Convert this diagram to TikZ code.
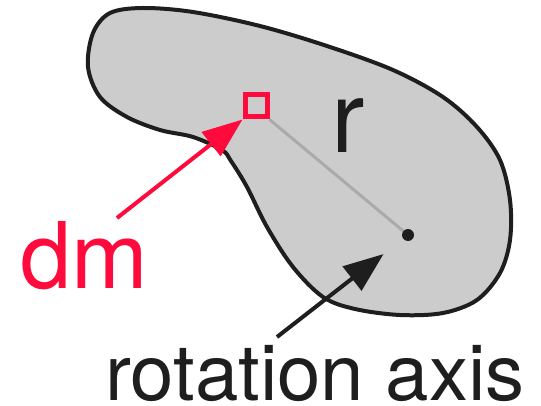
\documentclass[tikz,border=0pt]{standalone}
\usepackage{fontspec}
\setmainfont{TeX Gyre Heros}
\usetikzlibrary{arrows.meta}
\definecolor{dmred}{HTML}{FF0A3C}
\definecolor{blobgray}{HTML}{CCCCCC}
\definecolor{outline}{HTML}{1E1E1E}
\definecolor{rline}{HTML}{AAAAAA}
\tikzset{
  blob/.style={fill=blobgray, draw=outline, line width=4pt},
  bigarrow/.style={line width=4pt, -{Triangle[length=40pt,width=30pt]}},
  lbl/.style={inner sep=0pt, anchor=base west, text depth=0pt},
}
\begin{document}
\begin{tikzpicture}[x=1pt,y=-1pt]
\useasboundingbox (0,0) rectangle (541,406);
\draw[blob] plot[smooth cycle, tension=0.55] coordinates {
  (143,8) (193,12) (260,26) (327,46) (393,70) (443,97) (477,127) (500,160)
  (510,200) (510,240) (500,273) (477,300) (443,313) (400,315) (355,309)
  (323,297) (293,267) (267,227) (247,187) (231,161) (222,150) (193,137)
  (160,130) (127,117) (100,97) (88,67) (93,33) (110,13)};
\node[draw=dmred, line width=5pt, minimum size=22pt, inner sep=0pt] (sq) at (256,106) {};
\coordinate (dot) at (408,235);
\draw[rline, line width=3pt] (sq.south east) -- (dot);
\fill[outline] (dot) circle[radius=6pt];
\coordinate (dmtail) at (117,218);
\coordinate (axtail) at (277,337);
\draw[bigarrow, dmred] (dmtail) -- (sq.south west);
\draw[bigarrow, outline, shorten >=31pt] (axtail) -- (dot);
\node[lbl, text=dmred, font=\fontsize{92}{92}\selectfont] (dm) at (20,288) {dm};
\node[lbl, text=outline, font=\fontsize{100}{100}\selectfont] (r) at (331,153) {r};
\node[lbl, text=outline, font=\fontsize{78}{78}\selectfont] (axis) at (105,400) {rotation axis};
\end{tikzpicture}
\end{document}
